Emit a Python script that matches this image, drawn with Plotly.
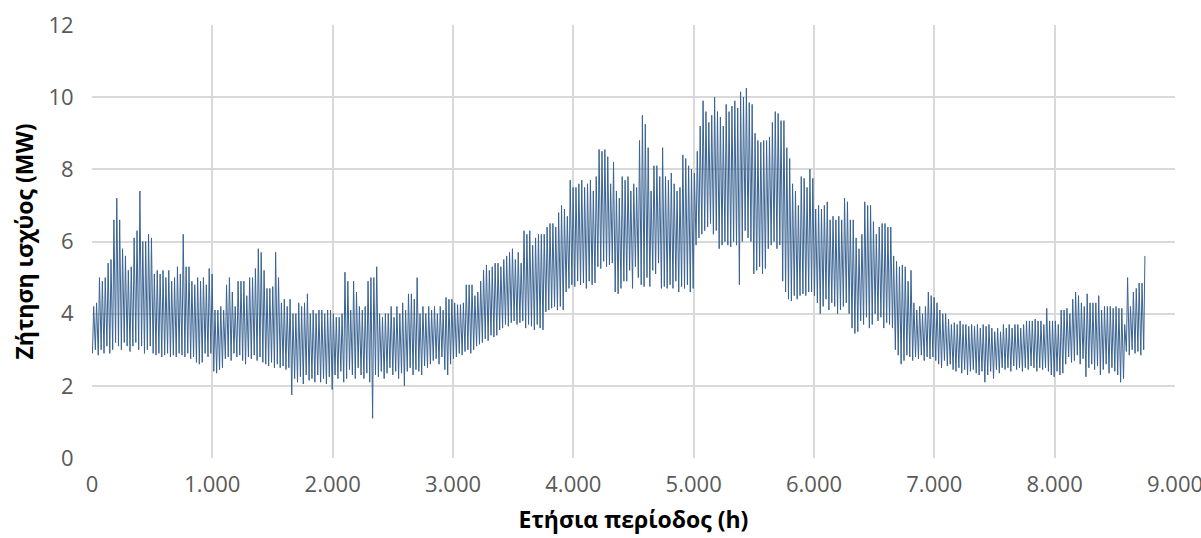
import plotly.graph_objects as go

# Daily peak (max) demand in MW, one value per day (365 days)
daily_max = [
    4.2, 4.3, 5.0, 4.9, 5.0, 5.4, 5.5, 6.6, 7.2, 6.6,
    5.8, 5.6, 5.2, 5.3, 6.1, 6.3, 7.4, 6.0, 6.0, 6.2,
    6.1, 5.1, 5.2, 5.1, 5.2, 5.0, 5.2, 4.9, 5.0, 5.3,
    5.1, 6.2, 5.3, 5.3, 4.9, 4.8, 5.0, 4.9, 5.0, 4.8,
    5.25, 5.1, 4.1, 4.1, 4.2, 4.1, 4.8, 5.0, 4.6, 4.2,
    4.9, 4.9, 4.9, 4.5, 5.0, 5.0, 5.25, 5.8, 5.7, 5.2,
    4.7, 4.7, 4.75, 5.7, 5.0, 4.3, 4.4, 4.2, 4.4, 4.0,
    4.0, 4.3, 4.2, 4.3, 4.55, 4.0, 4.1, 4.0, 4.1, 4.1,
    4.0, 4.1, 4.1, 4.0, 3.9, 3.9, 4.0, 5.15, 4.9, 4.1,
    4.9, 4.6, 4.2, 4.1, 4.2, 4.9, 5.0, 5.0, 5.3, 4.0,
    3.9, 4.0, 4.0, 4.2, 3.9, 4.2, 4.0, 4.3, 4.1, 4.55,
    4.55, 4.4, 5.0, 4.0, 4.2, 4.0, 4.2, 4.1, 4.2, 4.0,
    4.2, 4.1, 4.45, 4.4, 4.4, 4.3, 4.25, 4.25, 4.3, 4.8,
    4.8, 4.8, 4.5, 4.6, 4.9, 5.2, 5.35, 5.2, 5.3, 5.4,
    5.4, 5.3, 5.5, 5.6, 5.7, 5.8, 5.5, 5.7, 5.4, 6.3,
    6.2, 6.3, 5.9, 6.1, 6.2, 6.2, 6.2, 6.4, 6.5, 6.5,
    6.4, 6.8, 7.0, 6.9, 6.7, 7.7, 7.5, 7.5, 7.6, 7.7,
    7.5, 7.6, 7.7, 7.4, 7.8, 8.55, 8.5, 8.55, 8.35, 7.6,
    8.2, 7.4, 7.2, 7.8, 7.7, 7.8, 7.4, 7.6, 7.5, 8.8,
    9.5, 9.25, 8.6, 7.4, 8.1, 8.1, 7.8, 8.6, 7.8, 7.7,
    7.9, 7.6, 7.4, 7.5, 8.4, 8.3, 8.1, 8.0, 7.9, 8.5,
    9.2, 9.9, 9.6, 9.3, 9.5, 10.0, 9.6, 9.45, 9.2, 9.8,
    9.6, 9.75, 9.9, 9.7, 10.15, 10.0, 10.25, 9.85, 9.8, 9.0,
    8.8, 8.75, 8.8, 8.8, 8.9, 9.3, 9.6, 9.55, 9.35, 9.35,
    8.6, 8.3, 7.6, 7.4, 7.0, 7.8, 7.75, 7.5, 8.0, 7.75,
    6.9, 7.0, 6.9, 7.0, 7.1, 6.6, 6.7, 6.6, 6.7, 6.6,
    7.2, 7.1, 6.6, 6.6, 6.1, 5.8, 6.2, 7.1, 7.0, 7.0,
    6.55, 6.2, 6.4, 6.5, 6.5, 6.4, 6.4, 5.6, 5.45, 5.3,
    5.35, 5.3, 4.9, 5.2, 4.3, 4.1, 4.2, 4.0, 4.2, 4.6,
    4.5, 4.45, 4.3, 4.1, 4.0, 4.0, 3.85, 3.7, 3.75, 3.7,
    3.8, 3.7, 3.7, 3.65, 3.7, 3.65, 3.7, 3.6, 3.7, 3.65,
    3.7, 3.6, 3.5, 3.6, 3.5, 3.7, 3.6, 3.7, 3.6, 3.7,
    3.7, 3.6, 3.7, 3.8, 3.8, 3.8, 3.85, 3.8, 3.8, 3.7,
    4.15, 3.8, 3.8, 3.8, 3.7, 4.1, 4.1, 4.15, 4.0, 4.4,
    4.6, 4.5, 4.3, 4.2, 4.55, 4.3, 4.3, 4.3, 4.5, 4.1,
    4.2, 4.2, 4.2, 4.15, 4.2, 4.15, 4.15, 3.7, 5.0, 4.2,
    4.6, 4.7, 4.85, 4.85, 5.6,
]

# Daily minimum (night) demand in MW, one value per day
daily_min = [
    2.9, 3.0, 2.85, 3.0, 2.9, 3.1, 2.9, 3.0, 3.2, 3.1,
    3.0, 3.2, 3.1, 2.95, 3.1, 3.2, 3.0, 3.1, 2.9, 3.0,
    3.1, 2.9, 2.85, 2.9, 2.8, 2.85, 2.9, 2.8, 2.85, 2.8,
    2.9, 2.85, 2.8, 2.9, 2.75, 2.8, 2.65, 2.6, 2.65, 2.9,
    2.8, 2.9, 2.4, 2.35, 2.45, 2.5, 2.75, 2.8, 2.7, 2.9,
    2.8, 2.85, 2.7, 2.6, 2.8, 2.75, 2.85, 2.7, 2.8, 2.65,
    2.6, 2.55, 2.65, 2.5, 2.6, 2.5, 2.55, 2.45, 2.5, 1.75,
    2.2, 2.1, 2.25, 2.05, 2.3, 2.15, 2.2, 2.1, 2.3, 2.1,
    2.2, 2.05, 2.25, 1.9, 2.3, 2.2, 2.4, 2.1, 2.2, 2.45,
    2.3, 2.2, 2.5, 2.3, 2.2, 2.35, 2.1, 1.1, 2.3, 2.25,
    2.4, 2.2, 2.35, 2.5, 2.3, 2.4, 2.2, 2.35, 2.0, 2.4,
    2.5, 2.3, 2.45, 2.4, 2.3, 2.55, 2.5, 2.6, 2.7, 2.75,
    2.6, 2.8, 2.45, 2.3, 2.6, 2.75, 2.8, 2.9, 2.85, 2.95,
    3.0, 2.9, 3.0, 3.1, 3.15, 3.2, 3.3, 3.25, 3.4, 3.35,
    3.4, 3.55, 3.6, 3.7, 3.65, 3.75, 3.8, 3.7, 3.75, 3.8,
    3.6, 3.7, 3.65, 3.55, 3.7, 3.6, 3.55, 4.05, 4.1, 4.15,
    4.2, 4.1, 4.2, 4.1, 4.6, 4.7, 4.8, 4.75, 4.9, 4.8,
    4.85, 4.7, 4.9, 4.8, 4.85, 5.3, 5.25, 5.45, 5.3, 5.35,
    5.4, 4.6, 4.55, 4.7, 4.9, 4.9, 5.2, 4.7, 5.3, 5.0,
    4.8, 4.75, 5.0, 4.75, 5.2, 5.1, 5.4, 4.7, 4.75, 4.7,
    4.8, 4.7, 4.9, 4.6, 4.75, 4.7, 4.8, 4.6, 4.7, 5.9,
    6.1, 6.2, 6.3, 6.4, 6.5, 6.2, 6.3, 5.8, 5.9, 6.0,
    5.9, 5.85, 6.0, 5.9, 4.8, 6.0, 6.3, 6.1, 6.0, 5.1,
    5.2, 5.3, 5.1, 5.25, 5.8, 5.9, 6.0, 5.8, 5.9, 4.9,
    4.6, 4.4, 4.35, 4.5, 4.4, 4.5, 4.55, 4.5, 4.6, 4.6,
    4.5, 4.3, 4.0, 4.2, 4.4, 4.1, 4.3, 4.2, 4.0, 4.1,
    4.2, 4.3, 4.0, 3.6, 3.45, 3.5, 3.8, 3.7, 3.9, 3.6,
    3.7, 4.0, 3.8, 3.9, 3.6, 3.75, 3.7, 3.6, 3.0, 2.85,
    2.6, 2.7, 2.85, 2.8, 2.7, 2.8, 2.75, 2.85, 2.7, 2.8,
    2.75, 2.8, 2.7, 2.6, 2.5, 2.7, 2.55, 2.6, 2.45, 2.4,
    2.5, 2.35, 2.45, 2.3, 2.4, 2.45, 2.35, 2.3, 2.4, 2.1,
    2.3, 2.4, 2.2, 2.45, 2.35, 2.5, 2.45, 2.5, 2.4, 2.55,
    2.45, 2.5, 2.4, 2.5, 2.45, 2.55, 2.5, 2.4, 2.5, 2.45,
    2.5, 2.4, 2.3, 2.25, 2.4, 2.3, 2.35, 2.6, 2.8, 2.65,
    2.7, 2.85, 2.6, 2.75, 2.25, 2.5, 2.6, 2.45, 2.55, 2.3,
    2.45, 2.6, 2.35, 2.5, 2.4, 2.3, 2.1, 2.2, 2.95, 2.85,
    3.0, 2.9, 2.95, 2.85, 3.0,
]

x_tick_vals = [0, 1000, 2000, 3000, 4000, 5000, 6000, 7000, 8000, 9000]
x_tick_text = ["0", "1.000", "2.000", "3.000", "4.000", "5.000", "6.000", "7.000", "8.000", "9.000"]
y_tick_vals = [0, 2, 4, 6, 8, 10, 12]

HOURS_PER_DAY = 24
MIN_HOUR = 4     # hour of day at which the nightly minimum occurs
PEAK_HOUR = 14   # hour of day at which the daily peak occurs

hours, demand = [], []
for d, (lo, hi) in enumerate(zip(daily_min, daily_max)):
    hours += [d * HOURS_PER_DAY + MIN_HOUR, d * HOURS_PER_DAY + PEAK_HOUR]
    demand += [lo, hi]

fig = go.Figure()
fig.add_trace(go.Scatter(
    x=hours, y=demand, mode="lines",
    line=dict(color="#3A6391", width=1),
    showlegend=False, hoverinfo="skip",
))

font_family = "Open Sans, Lato, sans-serif"
fig.update_layout(
    template="none",
    width=1201, height=538,
    margin=dict(l=92, r=26, t=25, b=80),
    paper_bgcolor="white", plot_bgcolor="white",
    font=dict(family=font_family, color="#595959"),
    xaxis=dict(
        range=[0, 9000], tickvals=x_tick_vals, ticktext=x_tick_text,
        showgrid=True, gridcolor="#D9D9D9", gridwidth=1.5,
        zeroline=False, showline=False, automargin=False,
        ticks="outside", ticklen=7, tickcolor="rgba(0,0,0,0)",
        ticklabeloverflow="allow",
        tickfont=dict(size=22, color="#595959", family=font_family),
        title=dict(text="<b>Ετήσια περίοδος (h)</b>", standoff=14,
                   font=dict(size=23, color="black", family=font_family)),
    ),
    yaxis=dict(
        range=[0, 12], tickvals=y_tick_vals,
        showgrid=True, gridcolor="#D9D9D9", gridwidth=1.5,
        zeroline=False, showline=False, automargin=False,
        ticks="outside", ticklen=13, tickcolor="rgba(0,0,0,0)",
        ticklabeloverflow="allow",
        tickfont=dict(size=22, color="#595959", family=font_family),
        title=dict(text="<b>Ζήτηση ισχύος (MW)</b>", standoff=8,
                   font=dict(size=23, color="black", family=font_family)),
    ),
)

fig.write_html("out.html", config={"displayModeBar": False},
               post_script="document.body.style.margin='0';")
